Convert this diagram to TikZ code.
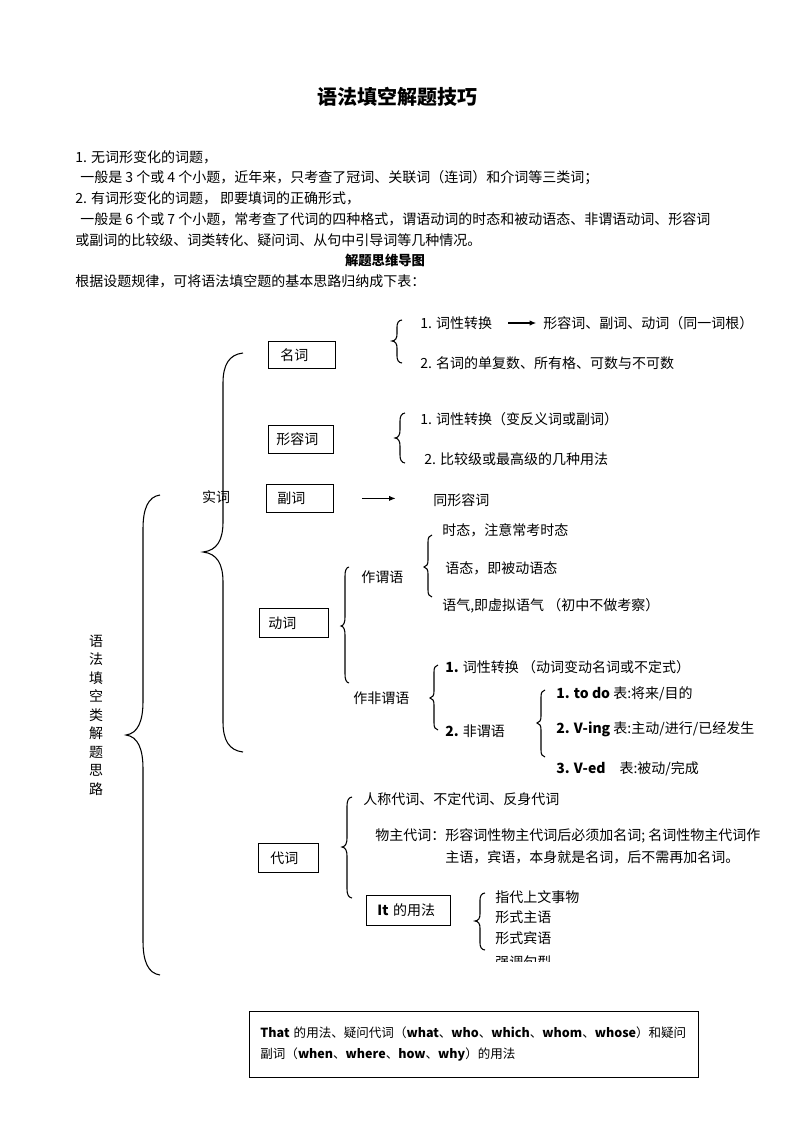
\documentclass[tikz,border=0pt]{standalone}
\usepackage{fontspec}
\setmainfont{Noto Sans CJK SC}
\usetikzlibrary{arrows.meta,positioning}

% geschweifte Klammer: x, oben, Spitze, unten, Breite, Bogen
\newcommand{\brc}[6]{%
  \draw[brace] (#1+#5,#2) .. controls (#1+0.3*#5,#2+0.05*#6) and (#1,#2+0.4*#6) .. (#1,#2+#6)
    -- (#1,#3-#6) .. controls (#1,#3-0.4*#6) and (#1-0.3*#5,#3-0.05*#6) .. (#1-#5,#3)
    .. controls (#1-0.3*#5,#3+0.05*#6) and (#1,#3+0.4*#6) .. (#1,#3+#6)
    -- (#1,#4-#6) .. controls (#1,#4-0.4*#6) and (#1+0.3*#5,#4-0.05*#6) .. (#1+#5,#4);}

\begin{document}
\begin{tikzpicture}[x=0.75pt, y=-0.75pt,
        every node/.style={font=\fontsize{10.5}{15.5}\selectfont},
        txt/.style={anchor=west, inner sep=0pt},
        wbox/.style={draw, line width=0.6pt, anchor=north west, align=left, inner ysep=0pt},
        brace/.style={line width=0.8pt, black},
        arr/.style={-{Latex[length=5pt,width=4pt]}, line width=0.8pt}
      ]
        \useasboundingbox (0,0) rectangle (794,1123);

        % Kopf
        \node[font=\fontsize{15}{18}\selectfont\bfseries] (title) at (397,97) {语法填空解题技巧};
        \node[txt] (h1) at (75,157) {1. 无词形变化的词题，};
        \node[txt] (h2) at (80,178) {一般是 3 个或 4 个小题，近年来，只考查了冠词、关联词（连词）和介词等三类词；};
        \node[txt] (h3) at (75,198) {2. 有词形变化的词题， 即要填词的正确形式，};
        \node[txt] (h4) at (80,219) {一般是 6 个或 7 个小题，常考查了代词的四种格式，谓语动词的时态和被动语态、非谓语动词、形容词};
        \node[txt] (h5) at (75,240) {或副词的比较级、词类转化、疑问词、从句中引导词等几种情况。};
        \node[font=\fontsize{10}{12}\selectfont\bfseries] (maptitle) at (385,260) {解题思维导图};
        \node[txt] (h6) at (75,281) {根据设题规律，可将语法填空题的基本思路归纳成下表：};

        % Wurzel
        \brc{143}{495}{735}{975}{17}{34}
        \node[align=center, font=\fontsize{10.5}{13.9}\selectfont] (root) at (96,715)
          {语\\法\\填\\空\\类\\解\\题\\思\\路};

        % 实词
        \brc{223}{353}{552}{752}{20}{30}
        \node (shici) at (216,497) {实词};

        % 名词
        \node[wbox, inner xsep=9pt, text width=32.25pt, minimum height=20.25pt] (noun) at (268,341) {名词};
        \brc{397}{320}{341}{363}{5}{7}
        \node[txt] (noun1) at (420,323) {1. 词性转换};
        \node[txt] (noun1r) at (543,323) {形容词、副词、动词（同一词根）};
        \node[txt] (noun2) at (420,363) {2. 名词的单复数、所有格、可数与不可数};
        \draw[arr, line width=1.3pt, shorten <=12pt, shorten >=5pt] (noun1.east) -- (noun1r.west);

        % 形容词
        \node[wbox, inner xsep=6pt, text width=36.75pt, minimum height=21pt] (adj) at (268,425) {形容词};
        \brc{400}{413}{438}{463}{5}{8}
        \node[txt] (adj1) at (420,419) {1. 词性转换（变反义词或副词）};
        \node[txt] (adj2) at (424,459) {2. 比较级或最高级的几种用法};

        % 副词
        \node[wbox, inner xsep=8.25pt, text width=33.75pt, minimum height=21pt] (adv) at (266,484) {副词};
        \node[txt] (adv1) at (433,500) {同形容词};
        \draw[arr, shorten <=21pt, shorten >=28pt] (adv.east) -- (adv1.west |- adv.east);

        % 动词
        \node[wbox, inner xsep=6.75pt, text width=38.25pt, minimum height=21.75pt] (verb) at (259,608) {动词};
        \brc{345}{567}{626}{683}{4}{9}
        \node[txt] (pred) at (361,577) {作谓语};
        \node[txt] (npred) at (353,698) {作非谓语};
        \brc{428}{535}{567}{597}{4}{7}
        \node[txt] (pred1) at (442,530) {时态，注意常考时态};
        \node[txt] (pred2) at (445,568) {语态，即被动语态};
        \node[txt] (pred3) at (442,606) {语气,即虚拟语气 （初中不做考察）};
        \brc{434}{665}{698}{730}{4}{7}
        \node[txt] (npred1) at (445,667) {\textbf{1.} 词性转换 （动词变动名词或不定式）};
        \node[txt] (npred2) at (445,731) {\textbf{2.} 非谓语};
        \brc{541}{690}{723}{757}{4}{7}
        \node[txt] (form1) at (556,694) {\textbf{1. to do} 表:将来/目的};
        \node[txt] (form2) at (556,729) {\textbf{2. V-ing} 表:主动/进行/已经发生};
        \node[txt] (form3) at (556,769) {\textbf{3. V-ed}\quad 表:被动/完成};

        % 代词
        \node[wbox, inner xsep=9pt, text width=27pt, minimum height=21.75pt] (pron) at (258,843) {代词};
        \brc{347}{797}{847}{898}{5}{9}
        \node[txt] (pron1) at (363,799) {人称代词、不定代词、反身代词};
        \node[txt] (pron2) at (375,836) {物主代词：形容词性物主代词后必须加名词; 名词性物主代词作};
        \node[txt] (pron3) at (445,857) {主语，宾语，本身就是名词，后不需再加名词。};
        \node[wbox, inner xsep=8.25pt, text width=46.5pt, minimum height=22.5pt] (itbox) at (366,895) {\textbf{It} 的用法};
        \brc{480}{893}{921}{950}{5}{7}
        \node[txt] (it1) at (495,897) {指代上文事物};
        \node[txt] (it2) at (495,917) {形式主语};
        \node[txt] (it3) at (495,938) {形式宾语};
        \begin{scope}
          \clip (480,940) rectangle (600,961);
          \node[txt] (it4) at (495,962) {强调句型};
        \end{scope}

        % That-Kasten
        \node[wbox, inner xsep=8.25pt, inner ysep=9pt, text width=320.25pt, minimum height=49.5pt,
              font=\fontsize{9.4}{15.75}\selectfont] (thatbox) at (249,1011)
          {\textbf{That} 的用法、疑问代词（\textbf{what}、\textbf{who}、\textbf{which}、\textbf{whom}、\textbf{whose}）和疑问\\
           副词（\textbf{when}、\textbf{where}、\textbf{how}、\textbf{why}）的用法\\[10pt]};
      \end{tikzpicture}
\end{document}
